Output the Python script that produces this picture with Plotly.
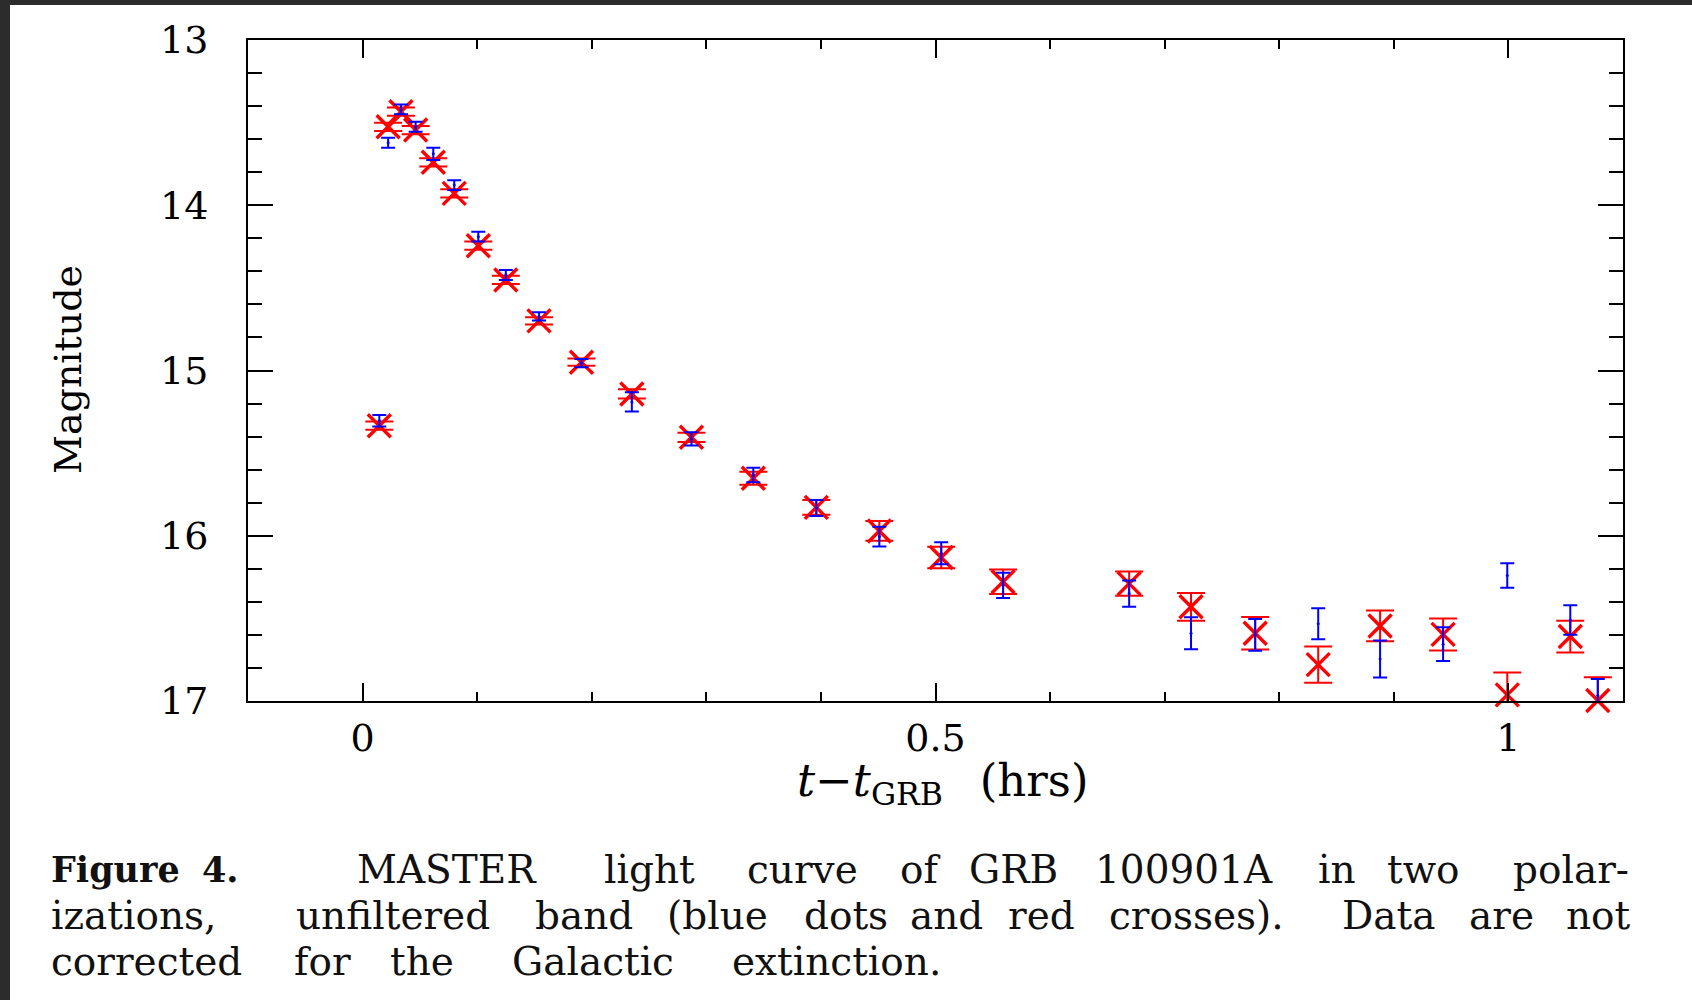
import plotly.graph_objects as go

# ---------------- data ----------------
t_hrs = [0.0146, 0.0223, 0.0335, 0.0463, 0.0617, 0.080, 0.101, 0.125, 0.154,
         0.191, 0.235, 0.287, 0.341, 0.396, 0.451, 0.505, 0.559, 0.669,
         0.723, 0.779, 0.834, 0.888, 0.943, 0.999, 1.054, 1.078]

mag_blue = [15.304, 13.622, 13.420, 13.525, 13.689, 13.878, 14.190, 14.422,
            14.673, 14.956, 15.190, 15.414, 15.632, 15.832, 16.005, 16.106,
            16.300, 16.350, 16.590, 16.600, 16.532, 16.746, 16.656, 16.240,
            16.510, 16.967]
err_blue = [0.035, 0.030, 0.030, 0.030, 0.037, 0.030, 0.030, 0.030, 0.025,
            0.025, 0.058, 0.040, 0.044, 0.048, 0.060, 0.067, 0.076, 0.079,
            0.097, 0.096, 0.094, 0.112, 0.102, 0.074, 0.089, 0.100]

mag_red = [15.334, 13.525, 13.434, 13.545, 13.740, 13.928, 14.245, 14.452,
           14.700, 14.950, 15.142, 15.404, 15.652, 15.828, 15.971, 16.132,
           16.278, 16.290, 16.430, 16.590, 16.780, 16.546, 16.597, 16.963,
           16.610, 16.997]
err_red = [0.025, 0.025, 0.025, 0.025, 0.025, 0.025, 0.025, 0.025, 0.022,
           0.022, 0.028, 0.028, 0.040, 0.045, 0.060, 0.065, 0.074, 0.073,
           0.084, 0.099, 0.110, 0.093, 0.097, 0.135, 0.096, 0.140]

x_range = [-0.1, 1.1]
y_range = [17, 13]

y_title = "Magnitude"
x_title = "<i>t</i>\u2212<i>t</i><sub>GRB</sub>\u2002 (hrs)"

caption_lines = [
    ["Figure", "4.", "MASTER", "light", "curve", "of", "GRB", "100901A",
     "in", "two", "polar-"],
    ["izations,", "unfiltered", "band", "(blue", "dots", "and", "red",
     "crosses).", "Data", "are", "not"],
    ["corrected", "for", "the", "Galactic", "extinction."],
]
bold_words = {(0, 0), (0, 1)}

# ---------------- layout geometry (pixels) ----------------
W, H = 1692, 1000
PL, PR, PT, PB = 248, 1623, 40, 701   # plot box


def px_x(x):
    return (x - PL) / (PR - PL)


def px_y(y):
    return (PB - y) / (PB - PT)


word_spans = [
    [(50, 200), (206, 235), (326, 568), (590, 709), (724, 880), (895, 944),
     (952, 1074), (1080, 1288), (1315, 1359), (1381, 1465), (1490, 1630)],
    [(50, 258), (274, 512), (526, 642), (651, 783), (799, 893), (902, 990),
     (1006, 1077), (1095, 1298), (1332, 1445), (1465, 1537), (1553, 1632)],
    [(50, 268), (285, 360), (378, 465), (483, 702), (720, 952)],
]
line_y = [869, 915, 961]

SERIF = "DejaVu Serif"

fig = go.Figure()

# red error bars (clipped to the plot box)
fig.add_trace(go.Scatter(
    x=t_hrs, y=mag_red, mode="markers",
    marker=dict(size=2, color="red", opacity=0),
    error_y=dict(type="data", array=err_red, color="red", thickness=2, width=14),
    cliponaxis=True, showlegend=False, hoverinfo="skip"))

# red crosses
fig.add_trace(go.Scatter(
    x=t_hrs, y=mag_red, mode="markers",
    marker=dict(symbol="x-thin-open", size=23, color="red",
                line=dict(color="red", width=3.4)),
    cliponaxis=False, showlegend=False))

# blue dots with error bars
fig.add_trace(go.Scatter(
    x=t_hrs, y=mag_blue, mode="markers",
    marker=dict(size=3, color="blue"),
    error_y=dict(type="data", array=err_blue, color="blue", thickness=2, width=7),
    cliponaxis=True, showlegend=False))

axis_common = dict(
    showline=True, linecolor="black", linewidth=2, mirror="ticks",
    ticks="inside", tickcolor="black", tickwidth=2,
    showgrid=False, zeroline=False,
    tickfont=dict(family=SERIF, size=38, color="black"),
)

fig.update_xaxes(
    range=x_range, tickmode="linear", tick0=0, dtick=0.5, ticklen=18,
    ticklabelstandoff=2,
    minor=dict(tickmode="linear", tick0=0, dtick=0.1, ticks="inside",
               ticklen=9, tickwidth=1.6, tickcolor="black", showgrid=False),
    **axis_common)
fig.update_yaxes(
    range=y_range, tickmode="linear", tick0=13, dtick=1, ticklen=25,
    ticklabelstandoff=30,
    minor=dict(tickmode="linear", tick0=13, dtick=0.2, ticks="inside",
               ticklen=14, tickwidth=1.6, tickcolor="black", showgrid=False),
    **axis_common)

annotations = []
# axis titles
annotations.append(dict(
    text=y_title, xref="paper", yref="paper", x=px_x(68), y=px_y(370),
    xanchor="center", yanchor="middle", textangle=-90, showarrow=False,
    font=dict(family=SERIF, size=38, color="black")))
annotations.append(dict(
    text=x_title, xref="paper", yref="paper", x=px_x(942), y=px_y(783),
    xanchor="center", yanchor="middle", showarrow=False,
    font=dict(family=SERIF, size=45, color="black")))

# caption, word by word (justified like the reference)
for li, words in enumerate(caption_lines):
    n = len(words)
    for wi, w in enumerate(words):
        x0, x1 = word_spans[li][wi]
        if wi == 0:
            xa, xp = "left", x0
        elif wi == n - 1 and li < 2:
            xa, xp = "right", x1
        else:
            xa, xp = "center", (x0 + x1) / 2
        is_bold = (li, wi) in bold_words
        txt = f"<b>{w}</b>" if is_bold else w
        annotations.append(dict(
            text=txt, xref="paper", yref="paper", x=px_x(xp), y=px_y(line_y[li]),
            xanchor=xa, yanchor="middle", showarrow=False, borderpad=0,
            font=dict(family=SERIF, size=35 if is_bold else 39,
                      color="#111111")))

shapes = [
    dict(type="rect", xref="paper", yref="paper",
         x0=px_x(0), x1=px_x(10), y0=px_y(H), y1=px_y(0),
         fillcolor="#2c2c2c", line=dict(width=0)),
    dict(type="rect", xref="paper", yref="paper",
         x0=px_x(0), x1=px_x(W), y0=px_y(5), y1=px_y(0),
         fillcolor="#2c2c2c", line=dict(width=0)),
]

fig.update_layout(
    width=W, height=H,
    margin=dict(l=PL, r=W - PR, t=PT, b=H - PB, autoexpand=False),
    paper_bgcolor="white", plot_bgcolor="white",
    annotations=annotations, shapes=shapes, showlegend=False,
)

fig.write_html("out.html")
